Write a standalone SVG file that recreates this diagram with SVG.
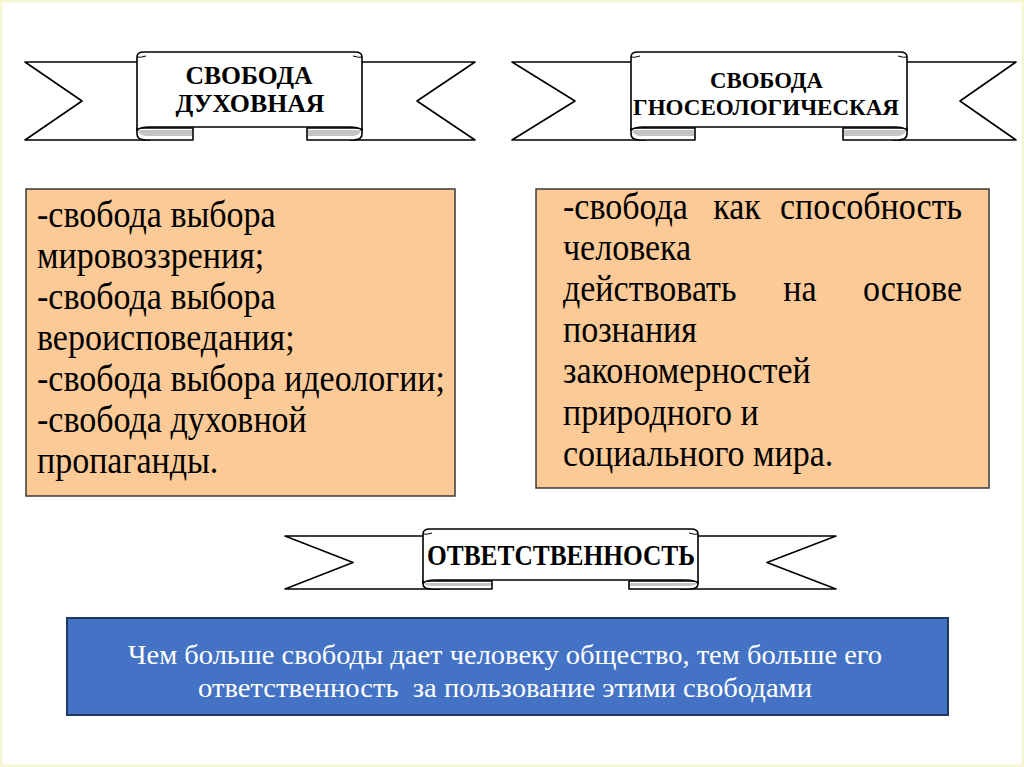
<svg xmlns="http://www.w3.org/2000/svg" width="1024" height="767" viewBox="0 0 1024 767">
<style>
.ln{fill:#fff;stroke:#000;stroke-width:1.6;stroke-linejoin:round}
.fold{fill:#c4c4c4;stroke:none}
.hd{font-family:"Liberation Serif","Times New Roman",serif;font-weight:bold;fill:#000;text-anchor:middle}
.bd{font-family:"Liberation Serif","Times New Roman",serif;font-size:34px;fill:#000}
.box{fill:#FBCA97;stroke:#3a3a3a;stroke-width:1.5}
.blue{fill:#4472C4;stroke:#1F3864;stroke-width:2}
.wt{font-family:"Liberation Serif","Times New Roman",serif;font-size:28px;fill:#fff;text-anchor:middle}
</style>
<rect x="1" y="1" width="1022" height="765" fill="#fff" stroke="#f6f6d2" stroke-width="3"/>

<g id="ribbon-dukhovnaya">
  <path class="ln" d="M25,62 L150,62 L150,140 L25,140 L82,101 Z"/>
  <path class="ln" d="M475,62 L350,62 L350,140 L475,140 L417,101 Z"/>
  <path class="ln" d="M137,128 L137,134 Q137,140 146,140 L193,140 L193,128 Z"/>
  <path class="fold" d="M138,130 Q139,136 148,136 L192,136 L192,130 Z"/>
  <path class="ln" d="M362,128 L362,134 Q362,140 353,140 L307,140 L307,128 Z"/>
  <path class="fold" d="M361,130 Q360,136 351,136 L308,136 L308,130 Z"/>
  <path class="ln" d="M137,130 L137,57 Q137,52 144,52 L355,52 Q362,52 362,57 L362,130 Q358,127 350,127 L149,127 Q141,127 137,130 Z"/>
  <path d="M137,57 Q140,58 146,56 M362,57 Q359,58 353,56" fill="none" stroke="#000" stroke-width="1"/>
  <text class="hd" x="249" y="84" font-size="25" textLength="127" lengthAdjust="spacingAndGlyphs">СВОБОДА</text>
  <text class="hd" x="250" y="111.5" font-size="25" textLength="149" lengthAdjust="spacingAndGlyphs">ДУХОВНАЯ</text>
</g>

<g id="ribbon-gnoseologicheskaya">
  <path class="ln" d="M512,62 L645,62 L645,140 L512,140 L575,101 Z"/>
  <path class="ln" d="M1016,62 L893,62 L893,140 L1016,140 L960,101 Z"/>
  <path class="ln" d="M631,128 L631,134 Q631,140 640,140 L695,140 L695,128 Z"/>
  <path class="fold" d="M632,130 Q633,136 642,136 L694,136 L694,130 Z"/>
  <path class="ln" d="M907,128 L907,134 Q907,140 898,140 L843,140 L843,128 Z"/>
  <path class="fold" d="M906,130 Q905,136 896,136 L844,136 L844,130 Z"/>
  <path class="ln" d="M631,130 L631,57 Q631,52 638,52 L900,52 Q907,52 907,57 L907,130 Q903,127 895,127 L643,127 Q635,127 631,130 Z"/>
  <path d="M631,57 Q634,58 640,56 M907,57 Q904,58 898,56" fill="none" stroke="#000" stroke-width="1"/>
  <text class="hd" x="766.5" y="88" font-size="24" textLength="113" lengthAdjust="spacingAndGlyphs">СВОБОДА</text>
  <text class="hd" x="766" y="115" font-size="24" textLength="266" lengthAdjust="spacingAndGlyphs">ГНОСЕОЛОГИЧЕСКАЯ</text>
</g>

<g id="ribbon-otvetstvennost">
  <path class="ln" d="M285,536 L440,536 L440,589 L285,589 L353,562.5 Z"/>
  <path class="ln" d="M836,536 L680,536 L680,589 L836,589 L767,562.5 Z"/>
  <path class="ln" d="M423,581 L423,584 Q423,589 432,589 L492,589 L492,581 Z"/>
  <path class="fold" d="M424,583 Q425,586 433,586 L491,586 L491,583 Z"/>
  <path class="ln" d="M698,581 L698,584 Q698,589 689,589 L629,589 L629,581 Z"/>
  <path class="fold" d="M697,583 Q696,586 688,586 L630,586 L630,583 Z"/>
  <path class="ln" d="M423,583 L423,534 Q423,529 430,529 L691,529 Q698,529 698,534 L698,583 Q694,580 686,580 L435,580 Q427,580 423,583 Z"/>
  <path d="M423,534 Q426,535 432,533 M698,534 Q695,535 689,533" fill="none" stroke="#000" stroke-width="1"/>
  <text class="hd" x="561" y="565" font-size="29" textLength="268" lengthAdjust="spacingAndGlyphs">ОТВЕТСТВЕННОСТЬ</text>
</g>

<g id="box-dukhovnaya">
  <rect class="box" x="26" y="189" width="429" height="307"/>
  <g transform="scale(1,1.13)">
    <text class="bd" x="37" y="200.9">-свобода выбора</text>
    <text class="bd" x="37" y="237.2">мировоззрения;</text>
    <text class="bd" x="37" y="273.5">-свобода выбора</text>
    <text class="bd" x="37" y="309.7">вероисповедания;</text>
    <text class="bd" x="37" y="346">-свобода выбора идеологии;</text>
    <text class="bd" x="37" y="382.3">-свобода духовной</text>
    <text class="bd" x="37" y="418.6">пропаганды.</text>
  </g>
</g>

<g id="box-gnoseologicheskaya">
  <rect class="box" x="536" y="189" width="453" height="299"/>
  <g transform="scale(1,1.13)">
    <text class="bd" y="193.8"><tspan x="563">-свобода</tspan><tspan x="737" text-anchor="middle">как</tspan><tspan x="962" text-anchor="end">способность</tspan></text>
    <text class="bd" x="563" y="230.1">человека</text>
    <text class="bd" y="266.4"><tspan x="563">действовать</tspan><tspan x="800" text-anchor="middle">на</tspan><tspan x="962" text-anchor="end">основе</tspan></text>
    <text class="bd" x="563" y="302.7">познания</text>
    <text class="bd" x="563" y="338.9">закономерностей</text>
    <text class="bd" x="563" y="376.1">природного и</text>
    <text class="bd" x="563" y="412.4">социального мира.</text>
  </g>
</g>

<g id="box-conclusion">
  <rect class="blue" x="67" y="618" width="881" height="97"/>
  <text class="wt" x="505" y="664" textLength="754" lengthAdjust="spacingAndGlyphs">Чем больше свободы дает человеку общество, тем больше его</text>
  <text class="wt" x="505" y="697" textLength="614" lengthAdjust="spacingAndGlyphs">ответственность&#160; за пользование этими свободами</text>
</g>

<g id="connectors"></g>
</svg>
